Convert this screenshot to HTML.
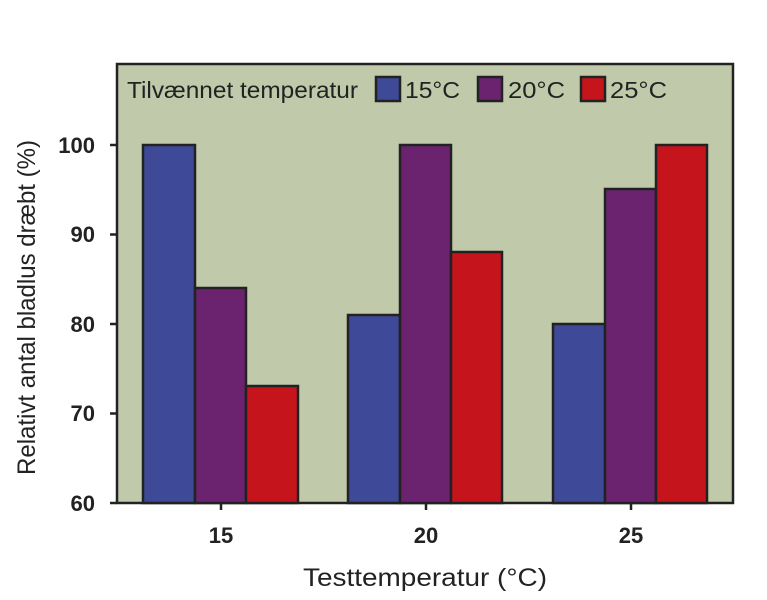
<!DOCTYPE html>
<html><head><meta charset="utf-8"><style>body{margin:0;background:#fff}svg{display:block}</style></head>
<body>
<svg width="767" height="600" xmlns="http://www.w3.org/2000/svg" font-family="Liberation Sans, sans-serif">
<rect x="117" y="64" width="616" height="439" fill="#c0c9aa" stroke="#222" stroke-width="2.5"/>
<g stroke="#222" stroke-width="2.5">
<rect x="143" y="145" width="52" height="358" fill="#3e4a97"/>
<rect x="195" y="288" width="51" height="215" fill="#6b2370"/>
<rect x="246" y="386" width="52" height="117" fill="#c5141b"/>
<rect x="348" y="315" width="52" height="188" fill="#3e4a97"/>
<rect x="400" y="145" width="51" height="358" fill="#6b2370"/>
<rect x="451" y="252" width="51" height="251" fill="#c5141b"/>
<rect x="553" y="324" width="52" height="179" fill="#3e4a97"/>
<rect x="605" y="189" width="51" height="314" fill="#6b2370"/>
<rect x="656" y="145" width="51" height="358" fill="#c5141b"/>
<line x1="110" y1="503" x2="117" y2="503"/><line x1="110" y1="413.5" x2="117" y2="413.5"/>
<line x1="110" y1="324" x2="117" y2="324"/><line x1="110" y1="234.5" x2="117" y2="234.5"/>
<line x1="110" y1="145" x2="117" y2="145"/>
<line x1="221" y1="503" x2="221" y2="510"/><line x1="426" y1="503" x2="426" y2="510"/><line x1="631" y1="503" x2="631" y2="510"/>
<rect x="376" y="77" width="24" height="24" fill="#3e4a97"/>
<rect x="478" y="77" width="24" height="24" fill="#6b2370"/>
<rect x="581" y="77" width="24" height="24" fill="#c5141b"/>
</g>
<g font-size="23" fill="#222">
<text x="127" y="98" textLength="231" lengthAdjust="spacingAndGlyphs">Tilvænnet temperatur</text>
<text x="405" y="98" textLength="55" lengthAdjust="spacingAndGlyphs">15°C</text>
<text x="508" y="98" textLength="57" lengthAdjust="spacingAndGlyphs">20°C</text>
<text x="610" y="98" textLength="57" lengthAdjust="spacingAndGlyphs">25°C</text>
</g>
<g font-size="22" fill="#222" font-weight="bold" text-anchor="end">
<text x="95" y="511">60</text><text x="95" y="421">70</text><text x="95" y="332">80</text>
<text x="95" y="242">90</text><text x="95" y="153">100</text>
</g>
<g font-size="22" fill="#222" font-weight="bold" text-anchor="middle">
<text x="221" y="543">15</text><text x="426" y="543">20</text><text x="631" y="543">25</text>
</g>
<text x="303" y="586" font-size="25" fill="#222" textLength="244" lengthAdjust="spacingAndGlyphs">Testtemperatur (°C)</text>
<text transform="translate(35,475) rotate(-90)" font-size="25" fill="#222" textLength="335" lengthAdjust="spacingAndGlyphs">Relativt antal bladlus dræbt (%)</text>
</svg>
</body></html>
